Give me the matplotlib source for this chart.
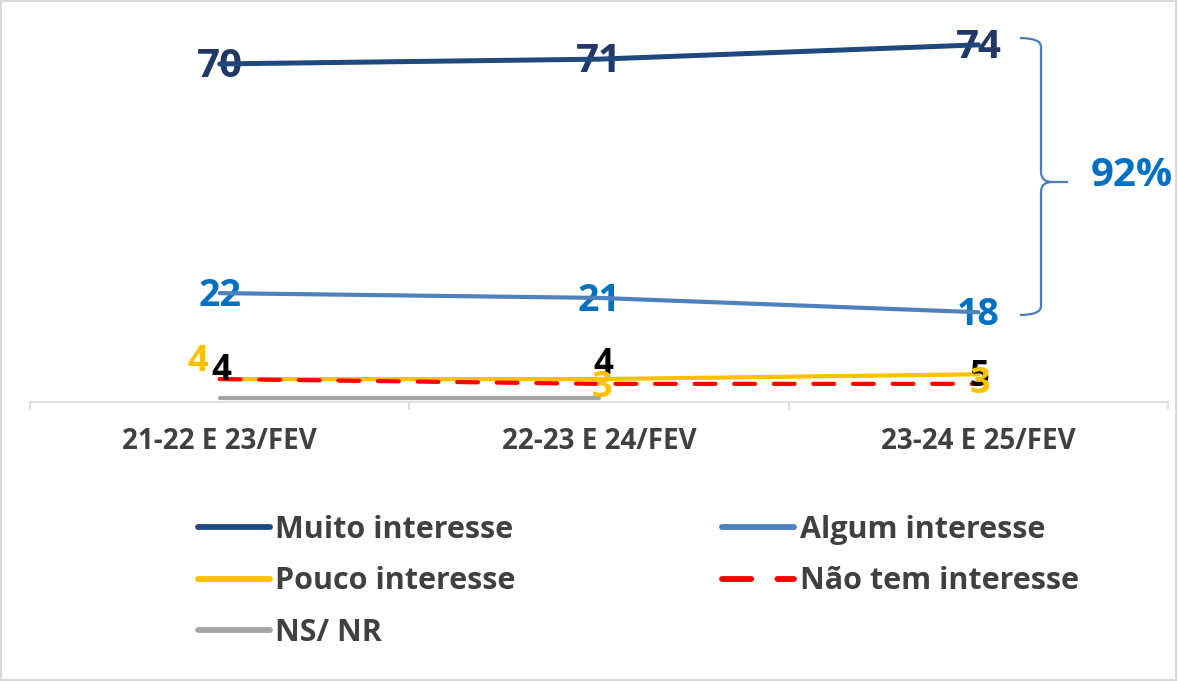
import matplotlib
matplotlib.use("Agg")
import matplotlib.pyplot as plt
import numpy as np
from matplotlib.path import Path
from matplotlib.patches import PathPatch, Rectangle

plt.rcParams['font.family'] = ['Open Sans', 'DejaVu Sans']

categories = ["21-22 E 23/FEV", "22-23 E 24/FEV", "23-24 E 25/FEV"]
muito = [70, 71, 74]
algum = [22, 21, 18]
pouco = [4, 4, 5]
nao_tem = [4, 3, 3]
ns_nr = [0, 0, np.nan]
pouco_labels = ["4", "4", "5"]
nao_labels = ["4", "3", "3"]
total_label = "92%"

W, H = 1178, 681
fig = plt.figure(figsize=(W / 100, H / 100), dpi=100)

def fx(px):
    return px / W

def fy(py):
    return 1 - py / H

ax = fig.add_axes([fx(30), fy(402), fx(1168) - fx(30), fy(20) - fy(402)])
x = np.arange(len(categories))

l_muito, = ax.plot(x, muito, color="#1F497D", lw=3.6, solid_capstyle="round", zorder=3)
l_algum, = ax.plot(x, algum, color="#4F81BD", lw=3.0, solid_capstyle="round", zorder=3)
l_pouco, = ax.plot(x, pouco, color="#FFC000", lw=3.0, solid_capstyle="round", zorder=3)
l_nao, = ax.plot(x, nao_tem, color="#FF0000", lw=3.0, linestyle=(0, (5, 4.5)),
                 dash_capstyle="round", zorder=3.5)
l_ns, = ax.plot(x, ns_nr, color="#A5A5A5", lw=3.0, solid_capstyle="round", zorder=3)

ax.set_xlim(-0.5, 2.5)
ax.set_ylim(-0.8, 79.2)

for s in ["top", "left", "right"]:
    ax.spines[s].set_visible(False)
ax.spines["bottom"].set_color("#D9D9D9")
ax.spines["bottom"].set_linewidth(1.2)
ax.set_yticks([])
ax.set_xticks(x)
ax.set_xticklabels(categories, fontsize=20, fontweight="bold", color="#404040")
ax.tick_params(axis="x", which="major", length=0, pad=18)
ax.set_xticks([-0.5, 0.5, 1.5, 2.5], minor=True)
ax.tick_params(axis="x", which="minor", length=6, color="#D9D9D9", width=1.2)

def lab(xi, yi, txt, color, size, dx=0, dy=0, z=4):
    ax.annotate(txt, (xi, yi), xytext=(dx, dy), textcoords="offset points",
                ha="center", va="center", fontsize=size, fontweight="bold",
                color=color, zorder=z)

for i, v in enumerate(muito):
    lab(i, v, str(v), "#1F3864", 29, dx=0, dy=-2, z=2)
for i, v in enumerate(algum):
    lab(i, v, str(v), "#0070C0", 27, dx=0, dy=-2, z=2)

p_off = [(1, 6), (3, 10), (1, -2)]
for i, v in enumerate(pouco):
    lab(i, v, pouco_labels[i], "#000000", 25, dx=p_off[i][0], dy=p_off[i][1], z=4)
n_off = [(-16, 12), (2, -3), (1, 0)]
for i, v in enumerate(nao_tem):
    lab(i, v, nao_labels[i], "#FFC000", 26, dx=n_off[i][0], dy=n_off[i][1], z=5)

# Brace
c = "#4A7EBB"
verts = [(1020, 38), (1041, 38), (1041, 47), (1041, 172), (1041, 182), (1052, 182),
         (1068, 182),
         (1052, 182), (1041, 182), (1041, 192), (1041, 306), (1041, 315), (1020, 315)]
codes = [Path.MOVETO, Path.CURVE3, Path.CURVE3, Path.LINETO, Path.CURVE3, Path.CURVE3,
         Path.LINETO,
         Path.MOVETO, Path.CURVE3, Path.CURVE3, Path.LINETO, Path.CURVE3, Path.CURVE3]
verts_f = [(fx(a), fy(b)) for a, b in verts]
fig.add_artist(PathPatch(Path(verts_f, codes), transform=fig.transFigure,
                         fill=False, edgecolor=c, lw=1.6))
fig.text(fx(1132), fy(176), total_label, ha="center", va="center", fontsize=29,
         fontweight="bold", color="#0070C0")

leg = fig.legend([l_muito, l_pouco, l_ns, l_algum, l_nao],
                 ["Muito interesse", "Pouco interesse", "NS/ NR", "Algum interesse",
                  "Não tem interesse"],
                 ncol=2, loc="upper left", bbox_to_anchor=(fx(198), fy(515)),
                 frameon=False, fontsize=22, handlelength=2.34, handletextpad=0.19,
                 labelspacing=0.7, columnspacing=6.76, borderpad=0, borderaxespad=0)
for t in leg.get_texts():
    t.set_fontweight("bold")
    t.set_color("#404040")
for h in leg.legend_handles:
    h.set_linewidth(4.2)

fig.add_artist(Rectangle((0.0005, 0.001), 0.998, 0.998, transform=fig.transFigure,
                         fill=False, edgecolor="#D9D9D9", lw=1.5))

fig.savefig("out.png", dpi=100)
